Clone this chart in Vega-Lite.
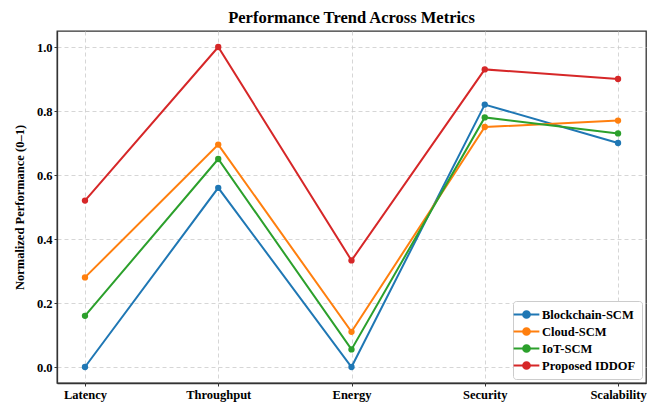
{
  "$schema": "https://vega.github.io/schema/vega-lite/v6.json",
  "width": 589,
  "height": 352,
  "autosize": "none",
  "padding": {"left": 57, "top": 31, "right": 16, "bottom": 20},
  "background": "white",
  "title": {"text": "Performance Trend Across Metrics", "font": "Liberation Serif", "fontSize": 16.5, "fontWeight": "bold", "color": "#000", "offset": 5},
  "config": {
    "view": {"stroke": "#333333", "strokeWidth": 1.3},
    "axis": {"labelFont": "Liberation Serif", "labelFontWeight": "bold", "labelFontSize": 12.5, "labelColor": "#000", "titleFont": "Liberation Serif", "titleFontWeight": "bold", "titleFontSize": 12.5, "titleColor": "#000", "grid": true, "gridColor": "#cccccc", "gridDash": [4, 3], "gridWidth": 0.8, "domain": true, "domainColor": "#333333", "domainWidth": 1.3, "tickColor": "#333333", "tickSize": 3, "tickWidth": 1}
  },
  "data": {"values": [
    {"metric": "Latency", "model": "Blockchain-SCM", "value": 0.0},
    {"metric": "Throughput", "model": "Blockchain-SCM", "value": 0.56},
    {"metric": "Energy", "model": "Blockchain-SCM", "value": 0.0},
    {"metric": "Security", "model": "Blockchain-SCM", "value": 0.82},
    {"metric": "Scalability", "model": "Blockchain-SCM", "value": 0.70},
    {"metric": "Latency", "model": "Cloud-SCM", "value": 0.28},
    {"metric": "Throughput", "model": "Cloud-SCM", "value": 0.695},
    {"metric": "Energy", "model": "Cloud-SCM", "value": 0.11},
    {"metric": "Security", "model": "Cloud-SCM", "value": 0.75},
    {"metric": "Scalability", "model": "Cloud-SCM", "value": 0.77},
    {"metric": "Latency", "model": "IoT-SCM", "value": 0.16},
    {"metric": "Throughput", "model": "IoT-SCM", "value": 0.65},
    {"metric": "Energy", "model": "IoT-SCM", "value": 0.055},
    {"metric": "Security", "model": "IoT-SCM", "value": 0.78},
    {"metric": "Scalability", "model": "IoT-SCM", "value": 0.73},
    {"metric": "Latency", "model": "Proposed IDDOF", "value": 0.52},
    {"metric": "Throughput", "model": "Proposed IDDOF", "value": 1.0},
    {"metric": "Energy", "model": "Proposed IDDOF", "value": 0.333},
    {"metric": "Security", "model": "Proposed IDDOF", "value": 0.93},
    {"metric": "Scalability", "model": "Proposed IDDOF", "value": 0.90}
  ]},
  "mark": {"type": "line", "strokeWidth": 2, "point": {"size": 40, "filled": true, "opacity": 1}},
  "encoding": {
    "x": {"field": "metric", "type": "nominal", "sort": ["Latency", "Throughput", "Energy", "Security", "Scalability"],
      "scale": {"type": "point", "padding": 0.21},
      "axis": {"title": null, "labelAngle": 0, "labelPadding": 2, "grid": true}},
    "y": {"field": "value", "type": "quantitative", "scale": {"domain": [-0.05, 1.05], "nice": false, "zero": false},
      "axis": {"title": "Normalized Performance (0–1)", "values": [0, 0.2, 0.4, 0.6, 0.8, 1.0], "format": ".1f", "titlePadding": 10}},
    "color": {"field": "model", "type": "nominal",
      "scale": {"domain": ["Blockchain-SCM", "Cloud-SCM", "IoT-SCM", "Proposed IDDOF"], "range": ["#1f77b4", "#ff7f0e", "#2ca02c", "#d62728"]},
      "legend": {"title": null, "orient": "bottom-right", "offset": 4, "fillColor": "white", "strokeColor": "#ccc", "padding": 6, "cornerRadius": 3,
        "labelFont": "Liberation Serif", "labelFontWeight": "bold", "labelFontSize": 12.5, "labelColor": "#000", "labelOffset": 8,
        "symbolType": "M-2.1,0L2.1,0M-0.55,0A0.55,0.55,0,1,1,0.55,0A0.55,0.55,0,1,1,-0.55,0", "symbolSize": 150, "symbolStrokeWidth": 2, "rowPadding": 2}}
  }
}
